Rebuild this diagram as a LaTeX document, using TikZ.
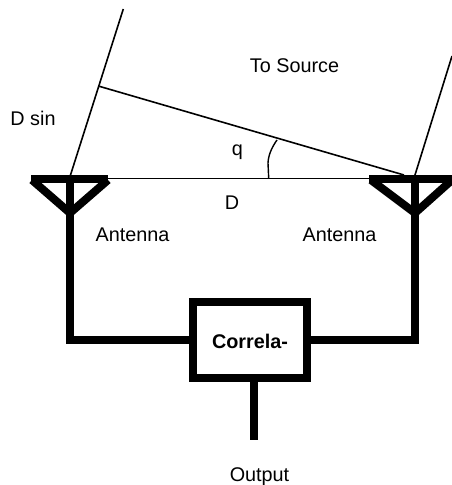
\documentclass[tikz,border=0pt]{standalone}
\usepackage{fontspec}
\setmainfont{Liberation Sans}
\begin{document}
\begin{tikzpicture}[x=1pt,y=-1pt,
  thin line/.style={line width=1.6pt,draw=black},
  mid line/.style={line width=1.4pt,draw=black},
  thick line/.style={line width=8pt,draw=black},
  lbl/.style={inner sep=0pt,font=\fontsize{19.8pt}{24pt}\selectfont,anchor=base},
  box/.style={draw=black,line width=8pt,fill=white,minimum width=114.5pt,minimum height=76.5pt,inner sep=0pt}]
\useasboundingbox (0,0) rectangle (452,485);
\coordinate (la) at (70.5,175);
\coordinate (ltop) at (123.3,9);
\coordinate (lbase) at (70,178.3);
\coordinate (rbase) at (415,178.3);
\coordinate (rb) at (415,175);
\coordinate (rtop) at (452,56);
\coordinate (foot) at (99.3,86.3);
\coordinate (rfoot) at (404,175);
\coordinate (arcA) at (268.7,178.3);
\coordinate (arcB) at (277,140);
% thin geometry
\draw[thin line] (la) -- (ltop);
\draw[thin line] (foot) -- (rfoot);
\draw[thin line] (rb) -- (rtop);
\draw[mid line] (lbase) -- (rbase);
\draw[mid line] (arcA) -- (268,163) .. controls (268.3,155) and (272,147) .. (arcB);
% antennas
\draw[thick line] (31,178.5) -- (108,178.5);
\draw[thick line] (369,178.5) -- (452,178.5);
\draw[thick line] (32,180) -- (70,213) -- (108,180);
\draw[thick line] (371,180) -- (415,213) -- (452,180);
% correlator
\coordinate (lcorner) at (70,340);
\coordinate (rcorner) at (415,340);
\node[box] (corr) at (249.75,340) {};
\node[inner sep=0pt,anchor=base,font=\fontsize{19.8pt}{24pt}\selectfont\bfseries] (corrlabel) at (250,348) {Correla-};
\draw[thick line,line cap=rect] (70,180) -- (lcorner);
\draw[thick line,line cap=rect] (415,180) -- (rcorner);
\draw[thick line] (lcorner) -- (corr.west);
\draw[thick line] (rcorner) -- (corr.east);
\coordinate (outend) at (253.5,440);
\draw[thick line] (outend |- corr.south) -- (outend);
% labels
\node[lbl] (dsin) at (33,125) {D sin};
\node[lbl] (src) at (294.5,72) {To Source};
\node[lbl] (q) at (237.5,155) {q};
\node[lbl] (d) at (232,209) {D};
\node[lbl] (al) at (132.5,241) {Antenna};
\node[lbl] (ar) at (339.5,241) {Antenna};
\node[lbl] (out) at (259.5,481) {Output};
\end{tikzpicture}
\end{document}
